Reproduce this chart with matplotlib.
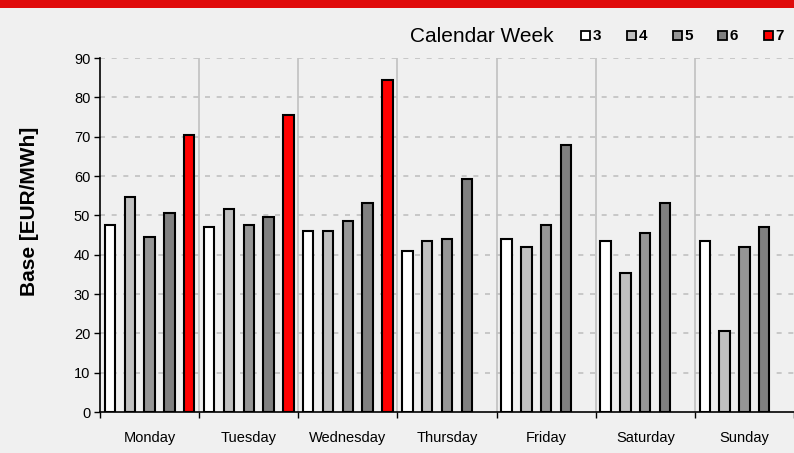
import matplotlib
matplotlib.use("Agg")
import matplotlib.pyplot as plt
import numpy as np
from matplotlib.patches import Rectangle

plt.rcParams['font.family'] = ['Liberation Sans', 'DejaVu Sans']

days = ["Monday", "Tuesday", "Wednesday", "Thursday", "Friday", "Saturday", "Sunday"]
weeks = ["3", "4", "5", "6", "7"]
week3 = [47.5, 47.0, 46.0, 41.0, 44.0, 43.5, 43.5]
week4 = [54.6, 51.7, 46.0, 43.5, 42.0, 35.3, 20.5]
week5 = [44.5, 47.5, 48.6, 44.0, 47.5, 45.5, 42.0]
week6 = [50.6, 49.6, 53.1, 59.2, 67.8, 53.1, 47.0]
week7 = [70.4, 75.5, 84.5, np.nan, np.nan, np.nan, np.nan]
series = [week3, week4, week5, week6, week7]
colors = ["#ffffff", "#c0c0c0", "#969696", "#808080", "#ff0000"]

fig = plt.figure(figsize=(7.94, 4.53), dpi=100)
fig.patch.set_facecolor("#f0f0f0")
ax = fig.add_axes([100/794, 1-412/453, 694/794, (412-58)/453])
ax.set_facecolor("#f0f0f0")

# red banner at top
fig.patches.append(Rectangle((0, 1-8/453), 1, 8/453, transform=fig.transFigure,
                             facecolor="#e00b0b", edgecolor="none"))

n = len(days)
slot = 1/5
for k, vals in enumerate(series):
    x = np.arange(n) + slot*(k+0.5)
    v = np.array(vals, dtype=float)
    m = ~np.isnan(v)
    ax.bar(x[m], v[m], width=0.105, color=colors[k], edgecolor="black", linewidth=1.5, zorder=3)

ax.set_xlim(0, n)
ax.set_ylim(0, 90)
ax.set_yticks(np.arange(0, 91, 10))
for yv in np.arange(10, 91, 10):
    ax.axhline(yv, color="#c0c0c0", linestyle=(0, (3, 4)), linewidth=1.2, zorder=1)
for xv in range(1, n):
    ax.axvline(xv, color="#c0c0c0", linewidth=1.2, zorder=1)

ax.set_xticks(np.arange(0, n+1))
ax.set_xticklabels([])
ax.set_xticks(np.arange(n)+0.5, minor=True)
ax.set_xticklabels(days, minor=True, fontsize=10.5)
ax.tick_params(axis='x', which='minor', length=0, pad=14)
ax.tick_params(axis='x', which='major', length=4, direction='out', width=1)
ax.tick_params(axis='y', length=4, direction='out', width=1, labelsize=10.5, pad=3)

for s in ["top", "right"]:
    ax.spines[s].set_visible(False)
ax.spines["left"].set_linewidth(1.2)
ax.spines["bottom"].set_linewidth(1.2)

ax.set_ylabel("Base [EUR/MWh]", fontsize=15, fontweight="bold")
ax.yaxis.set_label_coords(-61/694, (412-211)/354)

# legend
fig.text(482/794, 1-37/453, "Calendar Week", fontsize=15, ha="center", va="center")
lx = [581, 627, 673, 718, 764]
for k, w in enumerate(weeks):
    fig.patches.append(Rectangle((lx[k]/794, 1-39.5/453), 9/794, 9/453, transform=fig.transFigure,
                                 facecolor=colors[k], edgecolor="black", linewidth=1.3))
    fig.text((lx[k]+11.5)/794, 1-35.5/453, w, fontsize=11, fontweight="bold", ha="left", va="center")

fig.savefig("out.png", dpi=100, facecolor=fig.get_facecolor())
